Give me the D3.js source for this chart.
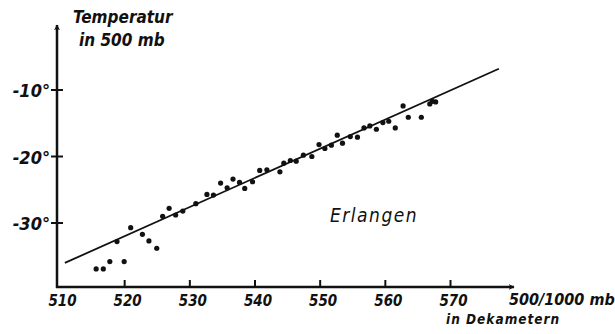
<!DOCTYPE html>
<html>
<head>
<meta charset="utf-8">
<script src="https://cdn.jsdelivr.net/npm/d3@7"></script>
<style>
  body { margin: 0; background: #fff; }
  svg text { font-family: "DejaVu Sans Condensed", "Liberation Sans Narrow", sans-serif; font-style: italic; fill: #111; }
</style>
</head>
<body>
<svg id="chart"></svg>
<script>
// Erlangen: thickness 500/1000 mb (dam) vs temperature at 500 mb
const thickness = [515.7, 516.8, 517.8, 520.0, 518.9, 521.0, 522.8, 523.8, 525.0, 525.9,
                   526.9, 527.9, 529.0, 531.0, 532.7, 533.7, 534.8, 535.8, 536.7, 537.7,
                   538.5, 539.7, 540.8, 541.9, 543.9, 544.5, 545.5, 546.4, 547.5, 548.8,
                   549.9, 550.8, 551.8, 552.7, 553.5, 554.7, 555.8, 556.8, 557.7, 558.7,
                   559.7, 560.6, 561.6, 562.8, 563.6, 565.6, 566.9, 567.8, 567.3];
const temperature = [-36.9, -36.9, -35.8, -35.8, -32.8, -30.7, -31.7, -32.7, -33.8, -29.0,
                     -27.8, -28.8, -28.2, -27.1, -25.7, -25.8, -24.0, -24.7, -23.4, -23.9,
                     -24.8, -23.8, -22.1, -22.0, -22.3, -21.0, -20.6, -20.7, -19.8, -20.0,
                     -18.2, -18.8, -18.3, -16.8, -18.0, -17.0, -17.1, -15.7, -15.4, -15.9,
                     -14.9, -14.7, -15.7, -12.4, -14.1, -14.1, -12.1, -11.8, -11.7];
// fitted line end points
const fitX = [510.9, 577.5];
const fitY = [-36.0, -6.8];

const xTicks = [510, 520, 530, 540, 550, 560, 570];
const yTicks = [-10, -20, -30];

const width = 615, height = 334;
const originX = 57, originY = 287;

const svg = d3.select("#chart").attr("width", width).attr("height", height);

const x = d3.scaleLinear().domain([510, 570]).range([59, 450]);
const y = d3.scaleLinear().domain([-30, -10]).range([223, 90]);

// arrow marker
svg.append("defs").append("marker")
    .attr("id", "arrow")
    .attr("viewBox", "0 0 10 10")
    .attr("refX", 9).attr("refY", 5)
    .attr("markerWidth", 6).attr("markerHeight", 6)
    .attr("markerUnits", "userSpaceOnUse")
    .attr("orient", "auto")
  .append("path")
    .attr("d", "M0,0 L10,5 L0,10 L3,5 Z")
    .attr("fill", "#111");

// axes
svg.append("line")
    .attr("x1", originX).attr("y1", originY + 1)
    .attr("x2", originX).attr("y2", 25)
    .attr("stroke", "#111").attr("stroke-width", 2.5)
    .attr("marker-end", "url(#arrow)");
svg.append("line")
    .attr("x1", originX - 1).attr("y1", originY)
    .attr("x2", 514).attr("y2", originY)
    .attr("stroke", "#111").attr("stroke-width", 2.5)
    .attr("marker-end", "url(#arrow)");

// x ticks
const xAxis = svg.append("g")
    .attr("transform", "translate(0," + originY + ")")
    .call(d3.axisBottom(x).tickValues(xTicks).tickSize(-7).tickPadding(8).tickFormat(d3.format("d")));
xAxis.select(".domain").remove();
xAxis.selectAll(".tick line").attr("stroke", "#111").attr("stroke-width", 2)
    .style("display", d => d === 510 ? "none" : null);
xAxis.selectAll(".tick text")
    .attr("dx", 3)
    .style("font-size", "15px").style("font-weight", "bold")
    .style("font-family", null);

// y ticks (cross the axis)
const yAxis = svg.append("g");
yAxis.selectAll("line")
    .data(yTicks)
    .enter()
    .append("line")
      .attr("x1", originX - 6).attr("x2", originX + 6)
      .attr("y1", d => y(d)).attr("y2", d => y(d))
      .attr("stroke", "#111").attr("stroke-width", 2);
yAxis.selectAll("text")
    .data(yTicks)
    .enter()
    .append("text")
      .attr("x", originX - 7)
      .attr("y", d => y(d) + 7)
      .attr("text-anchor", "end")
      .style("font-size", "18px").style("font-weight", "bold")
      .text(d => d + "°");

// fitted line
svg.append("line")
    .attr("x1", x(fitX[0])).attr("y1", y(fitY[0]))
    .attr("x2", x(fitX[1])).attr("y2", y(fitY[1]))
    .attr("stroke", "#111").attr("stroke-width", 1.8);

// dots
svg.append("g")
    .selectAll("circle")
    .data(thickness)
    .enter()
    .append("circle")
      .attr("cx", (d, i) => x(d))
      .attr("cy", (d, i) => y(temperature[i]))
      .attr("r", 2.6)
      .attr("fill", "#111");

// labels
svg.append("text").attr("x", 73).attr("y", 23)
    .style("font-size", "17px").style("font-weight", "bold").text("Temperatur");
svg.append("text").attr("x", 79).attr("y", 46)
    .style("font-size", "17px").style("font-weight", "bold").text("in  500 mb");
svg.append("text").attr("x", 330).attr("y", 222)
    .style("font-size", "19px").style("letter-spacing", "1.5px").text("Erlangen");
svg.append("text").attr("x", 509).attr("y", 305)
    .style("font-size", "16px").style("font-weight", "bold").text("500/1000 mb");
svg.append("text").attr("x", 446).attr("y", 324)
    .style("font-size", "13.5px").style("font-weight", "bold").style("letter-spacing", "1px").text("in  Dekametern");
</script>
</body>
</html>
